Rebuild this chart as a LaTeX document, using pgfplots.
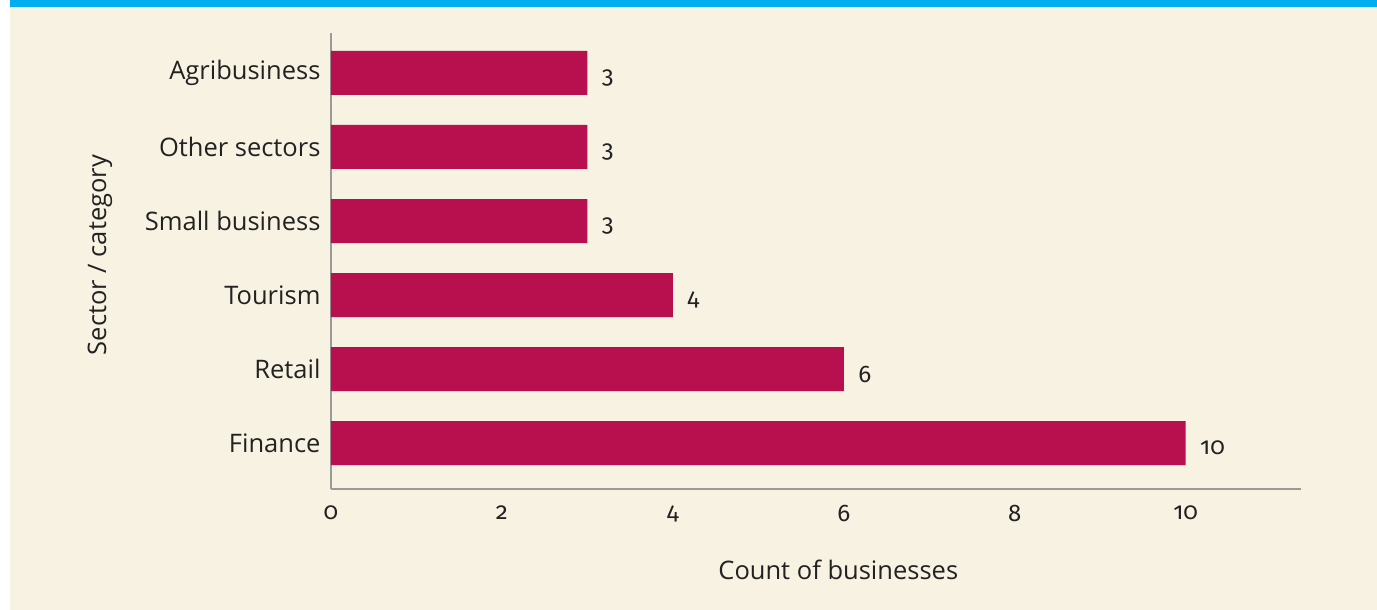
\documentclass[border=0pt]{standalone}
\usepackage{pgfplots}
\pgfplotsset{compat=1.18}
\usepackage{fontspec}
\setmainfont{Open Sans}
\newfontfamily\numfont[Numbers=OldStyle]{Fira Sans}
\definecolor{cream}{HTML}{F8F2E3}
\definecolor{topblue}{HTML}{00AEEF}
\definecolor{barred}{HTML}{B80F4F}
\definecolor{axgray}{HTML}{9A9A9A}
\definecolor{txt}{HTML}{222222}
\begin{document}
\begin{tikzpicture}[x=1pt,y=1pt]
\useasboundingbox (0,0) rectangle (1377,-610);
\fill[white] (0,0) rectangle (1377,-610);
\fill[cream] (10,-7) rectangle (1377,-610);
\fill[topblue] (10,0) rectangle (1377,-7);
\begin{axis}[
  at={(331pt,-489pt)}, anchor=south west,
  scale only axis, width=970pt, height=456pt,
  xbar, bar width=44pt,
  xmin=0, xmax=11.35, ymin=-0.62, ymax=5.54,
  axis x line*=bottom, axis y line*=left,
  axis line style={axgray, line width=2pt, -},
  major tick length=0pt,
  xtick={0,2,4,6,8,10},
  xticklabels={0,2,4,6,8,10},
  xticklabel style={font=\fontsize{24}{28}\selectfont\numfont, text=txt, yshift=-13pt},
  ytick={0,1,2,3,4,5},
  yticklabels={Finance,Retail,Tourism,Small business,Other sectors,Agribusiness},
  yticklabel style={font=\fontsize{25.5}{30}\selectfont, text=txt, xshift=-7pt},
  xlabel={Count of businesses},
  xlabel style={font=\fontsize{25.5}{30}\selectfont, text=txt, at={(axis description cs:0.523,0)}, anchor=center, yshift=-81pt},
  ylabel={Sector / category},
  ylabel style={font=\fontsize{25.5}{30}\selectfont, text=txt, anchor=center},
  every axis y label/.append style={at={(-231pt,234pt)}},
  nodes near coords={\numfont\pgfmathprintnumber{\pgfplotspointmeta}},
  nodes near coords style={font=\fontsize{24}{28}\selectfont, text=txt, anchor=west, xshift=11pt, yshift=-5pt},
  /pgf/number format/assume math mode=true,
  clip=false,
]
\addplot[fill=barred, draw=none] coordinates {(10,0) (6,1) (4,2) (3,3) (3,4) (3,5)};
\end{axis}
\end{tikzpicture}
\end{document}
